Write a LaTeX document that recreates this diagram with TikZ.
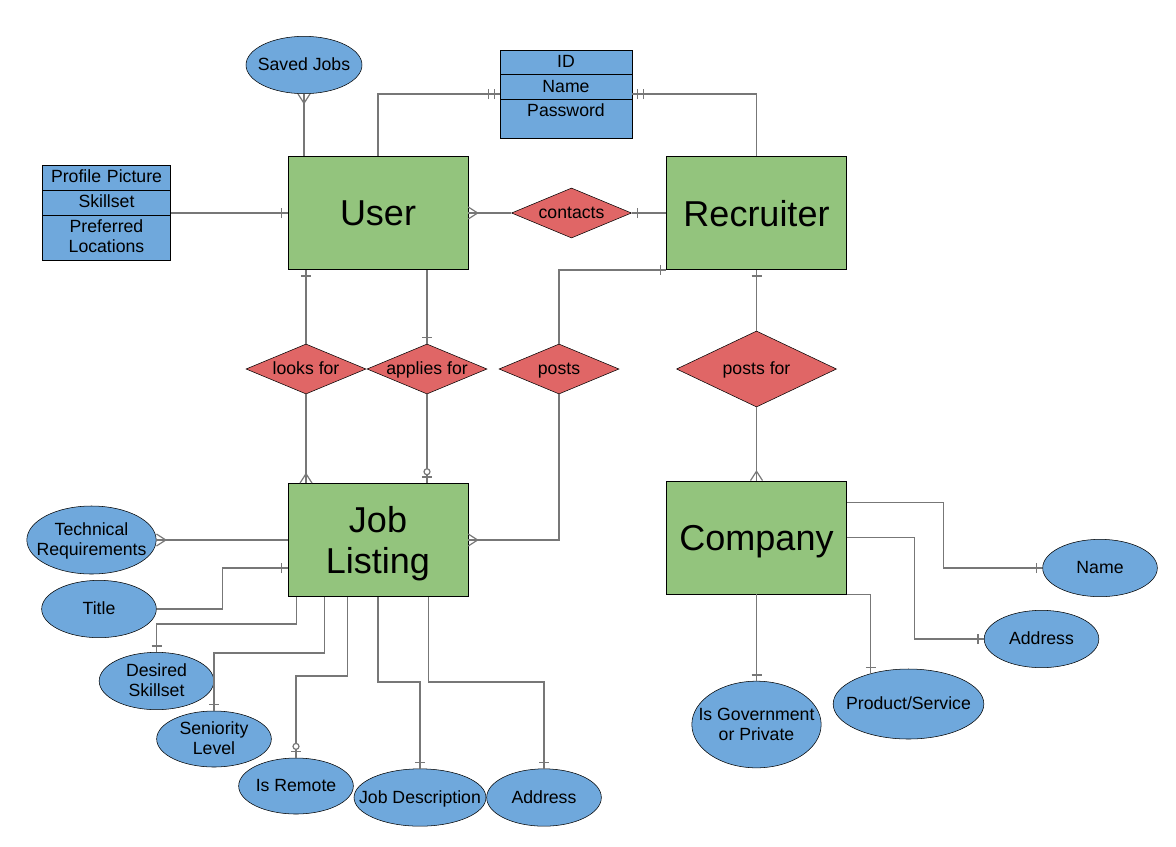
\documentclass[tikz,border=0pt]{standalone}
\usepackage{fontspec}
\setmainfont{Liberation Sans}
\usetikzlibrary{shapes.geometric,shapes.multipart,decorations.markings}

\definecolor{entgreen}{HTML}{93C47D}
\definecolor{attrblue}{HTML}{6FA8DC}
\definecolor{relred}{HTML}{E06666}
\definecolor{linkgray}{HTML}{777777}

\newcommand*{\attrlbl}[1]{\makebox[0pt]{\raisebox{-4.8pt}[0pt][0pt]{\begin{tabular}{@{}c@{}}#1\end{tabular}}}}
\newcommand*{\rowstrut}{\rule[-3.75pt]{0pt}{15pt}}

\begin{document}
\begin{tikzpicture}
[
	x=0.75pt, y=-0.75pt,
	every node/.style={font=\fontsize{13.25}{15}\selectfont},
	entity/.style={rectangle,draw,fill=entgreen,minimum width=135pt,minimum height=85pt,align=center,text depth=0pt,font=\fontsize{27}{31}\selectfont},
	attr/.style={ellipse,draw,fill=attrblue,inner sep=0pt,minimum width=86pt,minimum height=43pt},
	rel/.style={diamond,draw,fill=relred,inner sep=0pt,minimum width=90pt,minimum height=37.5pt},
	attrlist/.style={rectangle split,rectangle split parts=3,draw,fill=attrblue,inner xsep=0pt,inner ysep=1.5pt,align=center},
	link/.style={draw=linkgray,line width=0.9pt},
	mk/.style={draw=linkgray,line width=0.9pt},
	one end/.style={postaction={decorate,decoration={markings,
		mark=at position -4.5pt with {\draw[mk] (0,-3.75pt) -- (0,3.75pt);}}}},
	one start/.style={postaction={decorate,decoration={markings,
		mark=at position 4.5pt with {\draw[mk] (0,-3.75pt) -- (0,3.75pt);}}}},
	two end/.style={postaction={decorate,decoration={markings,
		mark=at position -8.5pt with {\draw[mk] (0,-3.75pt) -- (0,3.75pt);},
		mark=at position -4pt with {\draw[mk] (0,-3.75pt) -- (0,3.75pt);}}}},
	two start/.style={postaction={decorate,decoration={markings,
		mark=at position 4pt with {\draw[mk] (0,-3.75pt) -- (0,3.75pt);},
		mark=at position 8.5pt with {\draw[mk] (0,-3.75pt) -- (0,3.75pt);}}}},
	many end/.style={postaction={decorate,decoration={markings,
		mark=at position -0.01pt with {\draw[mk] (0,-4.5pt) -- (-7pt,0) -- (0,4.5pt);}}}},
	many start/.style={postaction={decorate,decoration={markings,
		mark=at position 0.01pt with {\draw[mk] (0,-4.5pt) -- (7pt,0) -- (0,4.5pt);}}}},
	zero one end/.style={postaction={decorate,decoration={markings,
		mark=at position -8.5pt with {\draw[mk,fill=white] (0,0) circle (2.25pt);},
		mark=at position -4.5pt with {\draw[mk] (0,-3.75pt) -- (0,3.75pt);}}}}
]

	\useasboundingbox (0,0) rectangle (1176,846);

	% entities
	\node[entity] (user) at (378,213) {User};
	\node[entity] (recruiter) at (756.5,213) {Recruiter};
	\node[entity] (job) at (378,540) {Job\\Listing};
	\node[entity] (company) at (756.5,537.5) {Company};

	% attribute lists
	\node[attrlist,text width=99pt] (account) at (566,94)
		{\rowstrut ID\nodepart{two}\rowstrut Name\nodepart{three}\rowstrut Password\rule[-14.25pt]{0pt}{14.25pt}};
	\node[attrlist,text width=96pt] (profile) at (106.5,213)
		{\rowstrut Profile Picture\nodepart{two}\rowstrut Skillset\nodepart{three}\rowstrut Preferred\\Locations\strut};

	% relationships
	\node[rel] (contacts) at (571.5,213) {\attrlbl{contacts}};
	\node[rel] (looks) at (306,369) {\attrlbl{looks for}};
	\node[rel] (applies) at (427,369) {\attrlbl{applies for}};
	\node[rel] (posts) at (559,369) {\attrlbl{posts}};
	\node[rel,minimum width=120pt,minimum height=57pt] (postsfor) at (756.5,369) {\attrlbl{posts for}};

	% attributes
	\node[attr,minimum width=87pt] (saved) at (304,65) {\attrlbl{Saved Jobs}};
	\node[attr,minimum width=97pt,minimum height=51pt] (tech) at (91.5,540) {\attrlbl{Technical\\Requirements}};
	\node[attr] (title) at (99,609) {\attrlbl{Title}};
	\node[attr] (desired) at (156.5,681) {\attrlbl{Desired\\Skillset}};
	\node[attr,minimum height=42pt] (seniority) at (214,739) {\attrlbl{Seniority\\Level}};
	\node[attr,minimum height=42pt] (remote) at (296,786) {\attrlbl{Is Remote}};
	\node[attr,minimum width=99pt] (jobdesc) at (420,797.5) {\attrlbl{Job Description}};
	\node[attr] (jaddr) at (544,797.5) {\attrlbl{Address}};
	\node[attr] (cname) at (1100,568) {\attrlbl{Name}};
	\node[attr] (caddr) at (1041.5,639) {\attrlbl{Address}};
	\node[attr,minimum width=113pt,minimum height=52.5pt] (product) at (908.5,704) {\attrlbl{Product/Service}};
	\node[attr,minimum width=97pt,minimum height=65pt] (govt) at (756.5,724.5) {\attrlbl{Is Government\\or Private}};

	% user and recruiter links
	\draw[link,many end] (user.north -| saved.south) -- (saved.south);
	\draw[link,two end] (user.north) |- (account.west);
	\draw[link,two start] (account.east) -| (recruiter.north);
	\draw[link,one end] (profile.east) -- (profile.east -| user.west);
	\draw[link,many start] (user.east) -- (contacts.west);
	\draw[link,one start] (contacts.east) -- (recruiter.west);

	% relationships to job listing and company
	\draw[link,one start] (user.south -| looks.north) -- (looks.north);
	\draw[link,many end] (looks.south) -- (looks.south |- job.north);
	\draw[link,one end] (user.south -| applies.north) -- (applies.north);
	\draw[link,zero one end] (applies.south) -- (applies.south |- job.north);
	\draw[link,one start] (recruiter.south west) -| (posts.north);
	\draw[link,many end] (posts.south) |- (job.east);
	\draw[link,one start] (recruiter.south) -- (postsfor.north);
	\draw[link,many end] (postsfor.south) -- (company.north);

	% job listing attributes
	\draw[link,many end] (job.west) -- (tech.east);
	\draw[link,one end] (title.east) -- ++(66,0) |- ([yshift=-21pt]job.west);
	\draw[link,one end] ([xshift=6.75pt]job.south west) -- ++(0,27) -| (desired.north);
	\draw[link,one end] ([xshift=27.75pt]job.south west) -- ++(0,56) -| (seniority.north);
	\draw[link,zero one end] ([xshift=45pt]job.south west) -- ++(0,79) -| (remote.north);
	\draw[link,one end] (job.south) -- ++(0,85) -| (jobdesc.north);
	\draw[link,one end] ([xshift=-30pt]job.south east) -- ++(0,85) -| (jaddr.north);

	% company attributes
	\draw[link,one end] ([yshift=26pt]company.east) -- ++(97,0) |- (cname.west);
	\draw[link,one end] (company.east) -- ++(68,0) |- (caddr.west);
	\draw[link,one end] (company.south east) -| (product.141);
	\draw[link,one end] (company.south) -- (govt.north);

\end{tikzpicture}
\end{document}
